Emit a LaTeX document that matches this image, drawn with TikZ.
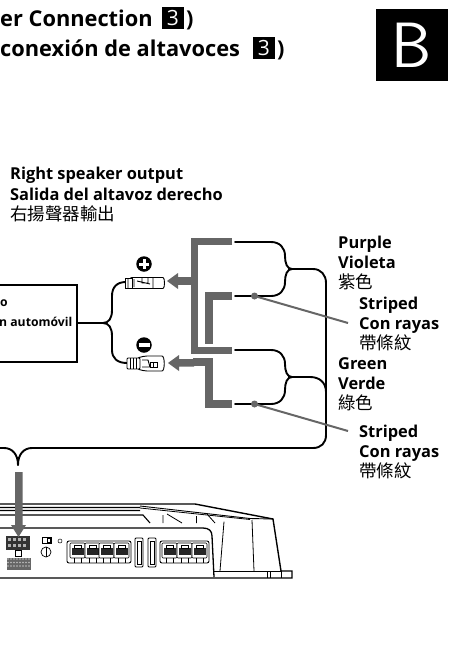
\documentclass[tikz,border=0pt]{standalone}
\usepackage{fontspec}
\setmainfont{Open Sans}
\newfontfamily\cjk{Noto Sans CJK TC}
\usetikzlibrary{calc}
\definecolor{gbar}{gray}{0.40}
\tikzset{
 x=1pt,y=-1pt,
 lab/.style={anchor=base west,inner sep=0pt,font=\fontsize{16.4}{16.4}\selectfont\bfseries},
 head/.style={anchor=base west,inner sep=0pt,font=\fontsize{21.8}{21.8}\selectfont\bfseries},
 small/.style={inner sep=0pt,anchor=base east,font=\fontsize{12.2}{12.2}\selectfont\bfseries},
 cjklab/.style={anchor=base west,inner sep=0pt,font=\fontsize{17.5}{17.5}\cjk},
 wire/.style={draw=black,line width=1.9pt,line cap=round},
 bar/.style={draw=gbar,line width=7.5pt},
 body/.style={draw=black,line width=1.4pt},
 num/.style={fill=black,text=white,inner sep=0pt,minimum size=22pt,font=\fontsize{21}{21}\selectfont},
 dotn/.style={circle,fill=gbar,inner sep=0pt,minimum size=7pt},
 sign/.style={circle,fill=black,inner sep=0pt,minimum size=15.5pt},
 arr/.style={fill=gbar,draw=none},
 ampterm/.style={draw=black,line width=0.6pt,fill=white},
}
\newcommand{\ampT}[1]{%
 \draw[ampterm,rounded corners=1pt] (#1-1,543) rectangle (#1+14,558);
 \fill[black!85] (#1+1,548) rectangle (#1+12.5,555);
 \draw[line width=.7pt] (#1+3,558) -- (#1+3,563) (#1+10,558) -- (#1+10,563);
 \draw[ampterm] (#1+3,545) rectangle (#1+10,548);
}
\begin{document}
\begin{tikzpicture}
\useasboundingbox (0,0) rectangle (449,651);
\fill[white] (0,0) rectangle (449,651);
% heading
\node[head] (h1) at (0,26) {er Connection};
\node[num] (n1) at (173,18) {3};
\node[head] (h1b) at (186,26) {)};
\node[head] (h2) at (0,56) {conexión de altavoces};
\node[num] (n2) at (264,48) {3};
\node[head] (h2b) at (277,56) {)};
\node[fill=black,minimum size=72pt,inner sep=0pt,text=white,font=\fontsize{64}{64}\selectfont\sffamily] (B) at (412,45) {B};
% labels
\node[lab] (r1) at (10,179) {Right speaker output};
\node[lab] (r2) at (10,200) {Salida del altavoz derecho};
\node[cjklab] (r3) at (10,220) {右揚聲器輸出};
\node[lab] (p1) at (338,248) {Purple};
\node[lab] (p2) at (338,268) {Violeta};
\node[cjklab] (p3) at (338,288) {紫色};
\node[lab] (s1) at (359,309) {Striped};
\node[lab] (s2) at (359,329) {Con rayas};
\node[cjklab] (s3) at (359,349) {帶條紋};
\node[lab] (g1) at (338,369) {Green};
\node[lab] (g2) at (338,389) {Verde};
\node[cjklab] (g3) at (338,409) {綠色};
\node[lab] (t1) at (359,437) {Striped};
\node[lab] (t2) at (359,457) {Con rayas};
\node[cjklab] (t3) at (359,477) {帶條紋};
% car unit box
\draw[line width=1.9pt] (-2,285) -- (77,285) -- (77,362) -- (-2,362);
\node[small] (c1) at (8,306) {o};
\node[small] (c2) at (72.5,326) {n automóvil};
\coordinate (boxr) at (77,323);
\coordinate (fork) at (103,323);
\coordinate (plusw) at (126,282);
\coordinate (minusw) at (127,363);
\draw[wire] (boxr) -- (fork) .. controls (109,323) and (112,318) .. (112,310) -- (112,296) .. controls (112,287) and (117,282) .. (plusw);
\draw[wire] (fork) .. controls (109,323) and (112,328) .. (112,336) -- (112,350) .. controls (112,358) and (117,363) .. (minusw);
% terminals
\node[sign] (plus) at (144,264) {};
\draw[white,line width=3pt] (plus.center) ++(-5,0) -- ++(10,0) (plus.center) ++(0,-5) -- ++(0,10);
\node[sign] (minus) at (144,345) {};
\draw[white,line width=3.4pt] (minus.center) ++(-5.5,0) -- ++(11,0);
\begin{scope}[line width=.9pt]
\draw[fill=white,rounded corners=2pt] (130,277.5) -- (161,277.5) .. controls (165,277.5) and (165,288.5) .. (161,288.5) -- (130,288.5) -- cycle;
\draw[fill=white] (125,278) rectangle (132,288);
\draw (128,278) -- (128,288) (134,279) -- (134,287) (137,281) -- (150,284) (142,278) -- (142,283) -- (148,283) -- (148,278) (153,278) -- (153,288);
\draw[fill=white,rounded corners=2pt] (137,358) -- (145,356) -- (160,356) .. controls (165,356) and (165,371) .. (160,371) -- (145,371) -- (137,369) -- cycle;
\draw[fill=white,rounded corners=1pt] (127,358) rectangle (140,369);
\draw (130,358) -- (130,369) (133,358) -- (133,369) (136,358) -- (136,369);
\draw[fill=white] (142,360) -- (148,360) -- (150,367) -- (142,367);
\draw (150,362) rectangle (157,367) (153,362) -- (153,367);
\end{scope}
% grey brackets
\draw[bar] (232,241.3) -- (194.5,241.3) -- (194.5,350.5) -- (232,350.5);
\draw[bar] (232,296) -- (209,296) -- (209,343.5);
\draw[bar] (193,362) -- (209,362) -- (209,404) -- (232,404);
\fill[arr] (167,281) -- (178,273) -- (178,277.2) -- (194,277.2) -- (194,284.8) -- (178,284.8) -- (178,289) -- cycle;
\fill[arr] (168,363) -- (179,355) -- (179,359) -- (194,359) -- (194,366.5) -- (179,366.5) -- (179,371) -- cycle;
% wires on the right
\coordinate (a1) at (235,242);
\coordinate (a2) at (235,296);
\coordinate (j1) at (292,269);
\coordinate (b1) at (235,350);
\coordinate (b2) at (235,404);
\coordinate (j2) at (292,377);
\draw[wire] (a1) -- (271,242) .. controls (280,242) and (285,248) .. (285,256) .. controls (285,263) and (287,269) .. (j1);
\draw[wire] (a2) -- (271,296) .. controls (280,296) and (285,290) .. (285,282) .. controls (285,275) and (287,269) .. (j1);
\draw[wire] (b1) -- (271,350) .. controls (280,350) and (285,356) .. (285,364) .. controls (285,371) and (287,377) .. (j2);
\draw[wire] (b2) -- (271,404) .. controls (280,404) and (285,398) .. (285,390) .. controls (285,383) and (287,377) .. (j2);
\draw[wire] (j2) -- (310,377) .. controls (320,377) and (326,383) .. (326,392);
\draw[wire] (j1) -- (313,269) .. controls (321,269) and (326,275) .. (326,283) -- (326,435) .. controls (326,443) and (321,448) .. (313,448) -- (32,448) .. controls (24,448) and (18,454) .. (18,465);
\draw[wire] (-2,448) -- (4,448) .. controls (12,448) and (18,454) .. (18,465);
% striped pointers
\node[dotn] (d1) at (254.5,296) {};
\node[dotn] (d2) at (254.5,404) {};
\coordinate (e1) at (348,323);
\coordinate (e2) at (348,431);
\draw[gbar,line width=2pt] (d1.center) -- (e1);
\draw[gbar,line width=2pt] (d2.center) -- (e2);
% amplifier
\draw[body] (-2,504) -- (195,504) -- (273,519) -- (281,571) -- (292,571) -- (292,578) -- (-2,578);
\draw[line width=1.1pt] (-2,507.5) -- (140,507.5) (-2,510.5) -- (140,510.5) (-2,515) -- (143,515) -- (150,523);
\draw[line width=.9pt] (140,506) -- (250,518.5) -- (273,519);
\draw[line width=.8pt] (140,508) -- (250,519.5);
\draw[line width=.8pt] (163,515) -- (163,523) (167,514) -- (182,523) (196.5,516) -- (196.5,523) (207,514) -- (215,523) (224,521.7) -- (220,571) (252,520) -- (254,571);
\draw[line width=1.3pt] (-2,528) -- (203,528) .. controls (209,528) and (212,531) .. (212,536) -- (214,577);
\draw[line width=.8pt] (214,571) -- (281,571) (267,571) -- (267,578) (270,571) -- (270,578) (281,571) -- (281,578);
% amp panel
\draw[line width=.9pt,rounded corners=2pt] (67,541) rectangle (131,563);
\draw[line width=.9pt,rounded corners=2pt] (160,541) rectangle (209,563);
\foreach \i in {71,86,100,115} {\ampT{\i}}
\foreach \i in {163,178,193} {\ampT{\i}}
\draw[line width=.9pt,rounded corners=1pt,fill=white] (135,538) rectangle (143,567);
\draw[line width=.9pt,rounded corners=1pt,fill=white] (148,538) rectangle (156,567);
\draw[line width=.5pt] (137,541) rectangle (141,564) (150,541) rectangle (154,564);
\fill[black!80] (6,536) rectangle (30,550);
\foreach \i in {8,13,18,23} {\fill[white!70!black] (\i,538) rectangle +(3,2.5); \fill[white!70!black] (\i,544) rectangle +(3,2.5);}
\draw[line width=.7pt] (15,550) rectangle (21,556);
\fill[black!60] (7,558) rectangle (31,570);
\foreach \i in {8,11,...,29} {\foreach \j in {559,562.5,566} {\fill[white!75!black] (\i,\j) circle (.9);}}
\draw[line width=.7pt] (42,537) rectangle (51,543);
\fill[black] (46.5,537) rectangle (51,543);
\fill[white] (47.5,538.5) rectangle (50,541.5);
\draw[line width=.7pt] (46,552) circle (5);
\draw[line width=.7pt] (46,547) -- (46,557);
\draw[line width=.5pt] (60,541) circle (2);
% grey down arrow
\fill[arr] (15,472) -- (22.6,472) -- (22.6,525) -- (26,525) -- (18.5,537) -- (11,525) -- (15,525) -- cycle;
\end{tikzpicture}
\end{document}
